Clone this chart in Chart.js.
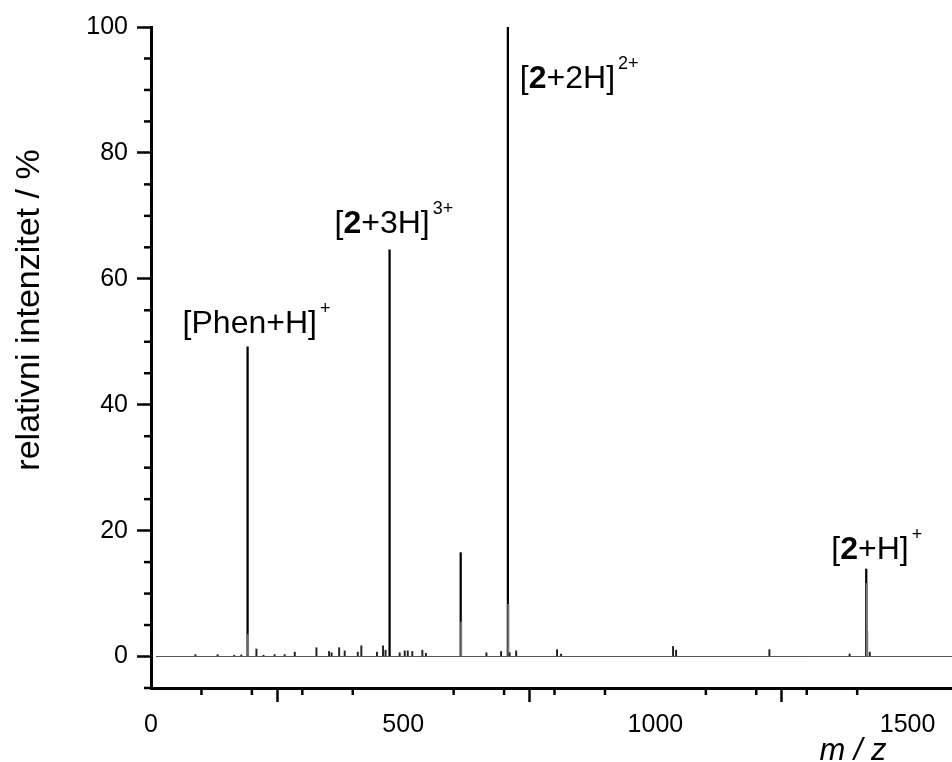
<!DOCTYPE html>
<html>
<head>
<meta charset="utf-8">
<script src="https://cdn.jsdelivr.net/npm/chart.js@4/dist/chart.umd.min.js"></script>
<style>
    html, body { margin: 0; padding: 0; background: #fff; }
    #wrap { width: 952px; height: 762px; }
</style>
</head>
<body>
<div id="wrap"><canvas id="spectrum" width="952" height="762"></canvas></div>
<script>

// main peaks (m/z, relative intensity %)
const mainMz = [191.5, 473, 614, 707.5, 1418];
const mainIntensity = [49.2, 64.6, 16.5, 100, 13.9];

// isotope / shoulder lines next to the main peaks
const isotopeMz = [192.5, 615, 708.5, 1419, 1420];
const isotopeIntensity = [3.5, 5.5, 8.3, 11.6, 4];

// small peaks along the baseline
const noiseMz = [88, 132, 165, 179, 209, 223, 245, 265, 285, 328, 353, 358, 373, 384, 410, 417, 448, 460, 465, 493, 503, 509, 518, 538, 545, 665, 694, 711, 724, 805, 813, 1035, 1041, 1226, 1385, 1425];
const noiseIntensity = [0.3, 0.3, 0.2, 0.25, 1.2, 0.2, 0.3, 0.3, 0.7, 1.4, 0.8, 0.6, 1.4, 0.9, 0.7, 1.7, 0.7, 1.7, 1.0, 0.6, 0.9, 0.9, 0.8, 1.0, 0.5, 0.6, 0.8, 0.6, 0.9, 1.1, 0.4, 1.6, 1.0, 1.1, 0.4, 0.7];

const baselineMz = [10, 1588];

const xTicks = [0, 500, 1000, 1500];
const xMinorTicks = [100, 200, 300, 400, 600, 700, 800, 900, 1100, 1200, 1300, 1400];
const yTicks = [0, 20, 40, 60, 80, 100];
const yMinorTicks = [-5, 5, 10, 15, 25, 30, 35, 45, 50, 55, 65, 70, 75, 85, 90, 95];

// peak labels: [text, style] parts, n = normal, b = bold, s = superscript
const peakLabels = [
    [['[Phen+H]', 'n'], ['+', 's']],
    [['[', 'n'], ['2', 'b'], ['+3H]', 'n'], ['3+', 's']],
    null,
    [['[', 'n'], ['2', 'b'], ['+2H]', 'n'], ['2+', 's']],
    [['[', 'n'], ['2', 'b'], ['+H]', 'n'], ['+', 's']]
];

const FONT = '"Liberation Sans", Arial, sans-serif';

const toPoints = (xs, ys) => xs.map((x, i) => ({ x: x, y: ys[i] }));

const decorations = {
    id: 'decorations',
    afterDraw(chart) {
        const { ctx, scales: { x, y } } = chart;
        ctx.save();
        ctx.strokeStyle = '#000';
        ctx.lineWidth = 2.5;

        // minor ticks
        xMinorTicks.forEach(v => {
            const px = x.getPixelForValue(v);
            ctx.beginPath();
            ctx.moveTo(px, y.bottom);
            ctx.lineTo(px, y.bottom + 7);
            ctx.stroke();
        });
        yMinorTicks.forEach(v => {
            const py = y.getPixelForValue(v);
            ctx.beginPath();
            ctx.moveTo(x.left, py);
            ctx.lineTo(x.left - 7, py);
            ctx.stroke();
        });

        // peak labels, offset in px from the peak top
        const offsets = [[-65, -14], [-55, -17], null, [12, 61], [-35, -10]];
        ctx.fillStyle = '#000';
        ctx.textBaseline = 'alphabetic';
        ctx.textAlign = 'left';
        peakLabels.forEach((parts, i) => {
            if (!parts) return;
            let px = x.getPixelForValue(mainMz[i]) + offsets[i][0];
            const py = y.getPixelForValue(mainIntensity[i]) + offsets[i][1];
            parts.forEach(([text, style]) => {
                if (style === 's') {
                    ctx.font = '18px ' + FONT;
                    px += 3;
                    ctx.fillText(text, px, py - 19);
                } else {
                    ctx.font = (style === 'b' ? 'bold ' : '') + '32px ' + FONT;
                    ctx.fillText(text, px, py);
                }
                px += ctx.measureText(text).width;
            });
        });

        // axis titles
        ctx.font = '34px ' + FONT;
        ctx.textAlign = 'center';
        ctx.textBaseline = 'middle';
        ctx.save();
        ctx.translate(30, 310);
        ctx.rotate(-Math.PI / 2);
        ctx.fillText('relativni intenzitet / %', 0, 0);
        ctx.restore();

        ctx.font = 'italic 31px ' + FONT;
        ctx.textBaseline = 'alphabetic';
        ctx.fillText('m / z', 853, 760);
        ctx.restore();
    }
};

new Chart(document.getElementById('spectrum'), {
    type: 'bar',
    data: {
        datasets: [
            {
                type: 'line',
                data: baselineMz.map(x => ({ x: x, y: 0 })),
                borderColor: '#555',
                borderWidth: 1,
                pointRadius: 0
            },
            {
                data: toPoints(noiseMz, noiseIntensity),
                backgroundColor: '#222',
                barThickness: 1.3,
                grouped: false
            },
            {
                data: toPoints(isotopeMz, isotopeIntensity),
                backgroundColor: '#777',
                barThickness: 1.3,
                grouped: false
            },
            {
                data: toPoints(mainMz, mainIntensity),
                backgroundColor: '#000',
                barThickness: 1.6,
                grouped: false
            }
        ]
    },
    options: {
        responsive: false,
        animation: false,
        devicePixelRatio: 1,
        layout: { padding: { top: 27, right: 0, bottom: 0, left: 0 } },
        plugins: { legend: { display: false }, tooltip: { enabled: false } },
        scales: {
            x: {
                type: 'linear',
                min: 0,
                max: 1588,
                offset: false,
                afterBuildTicks: s => { s.ticks = xTicks.map(v => ({ value: v })); },
                afterFit: s => { s.height = 74; },
                grid: { drawOnChartArea: false, tickLength: 14, tickWidth: 2.5, tickColor: '#000' },
                border: { color: '#000', width: 3 },
                ticks: { color: '#000', font: { family: FONT, size: 25 }, padding: 8, maxRotation: 0, callback: v => String(v) }
            },
            y: {
                min: -5,
                max: 100,
                afterBuildTicks: s => { s.ticks = yTicks.map(v => ({ value: v })); },
                afterFit: s => { s.width = 151; },
                grid: { drawOnChartArea: false, tickLength: 14, tickWidth: 2.5, tickColor: '#000' },
                border: { color: '#000', width: 3 },
                ticks: { color: '#000', font: { family: FONT, size: 25 }, padding: 9, callback: v => String(v) }
            }
        }
    },
    plugins: [decorations]
});
</script>
</body>
</html>
